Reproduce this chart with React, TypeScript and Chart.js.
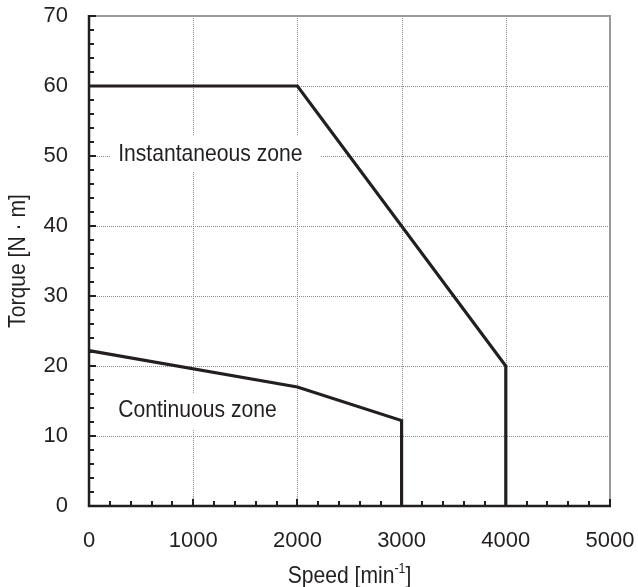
import { useEffect, useRef } from 'react';
import { Chart, registerables } from 'chart.js';

Chart.register(...registerables);

// ---- data ----
const instSpeed = [0, 2000, 4000, 4000];
const instTorque = [60, 60, 20, 0];
const contSpeed = [0, 2000, 3000, 3000];
const contTorque = [22.2, 17, 12.2, 0];

const xMajorTicks = [0, 1000, 2000, 3000, 4000, 5000];
const yMajorTicks = [0, 10, 20, 30, 40, 50, 60, 70];
const xMinorStep = 200;
const yMinorStep = 2;

const zoneNames = ['Instantaneous zone', 'Continuous zone'];
const zoneSpeed = [280, 280];
const zoneTorque = [50.3, 13.6];

const xTitleMain = 'Speed [min';
const xTitleSup = '-1';
const xTitleEnd = ']';
const yTitle = 'Torque [N · m]';

const INK = '#231f20';
const SANS = '"Liberation Sans", Arial, sans-serif';
const COND = 0.88; // horizontal condensing for the label face

const decorPlugin = {
  id: 'decor',
  beforeDatasetsDraw(chart: any) {
    const { ctx, chartArea } = chart;
    const xs = chart.scales.x;
    const ys = chart.scales.y;
    const { left, right, top, bottom } = chartArea;
    ctx.save();
    // dotted grid
    ctx.strokeStyle = '#8c8c8c';
    ctx.lineWidth = 1;
    ctx.setLineDash([1, 1]);
    xMajorTicks.forEach((v) => {
      if (v === 0 || v === 5000) return;
      const px = Math.round(xs.getPixelForValue(v)) + 0.5;
      ctx.beginPath();
      ctx.moveTo(px, top);
      ctx.lineTo(px, bottom);
      ctx.stroke();
    });
    yMajorTicks.forEach((v) => {
      if (v === 0 || v === 70) return;
      const py = Math.round(ys.getPixelForValue(v)) + 0.5;
      ctx.beginPath();
      ctx.moveTo(left, py);
      ctx.lineTo(right, py);
      ctx.stroke();
    });
    ctx.setLineDash([]);
    // top & right frame (gray)
    ctx.strokeStyle = '#9a9a9a';
    ctx.lineWidth = 2;
    ctx.beginPath();
    ctx.moveTo(left, top);
    ctx.lineTo(right, top);
    ctx.lineTo(right, bottom);
    ctx.stroke();

    // zone labels with white background
    ctx.font = `24px ${SANS}`;
    ctx.textBaseline = 'middle';
    ctx.textAlign = 'left';
    zoneNames.forEach((name, i) => {
      const px = xs.getPixelForValue(zoneSpeed[i]);
      const py = ys.getPixelForValue(zoneTorque[i]);
      const w = ctx.measureText(name).width * COND;
      ctx.fillStyle = '#ffffff';
      ctx.fillRect(px - 8, py - 18, w + 26, 36);
      ctx.save();
      ctx.translate(px, py);
      ctx.scale(COND, 1);
      ctx.fillStyle = INK;
      ctx.fillText(name, 0, 0);
      ctx.restore();
    });
    ctx.restore();
  },
  afterDatasetsDraw(chart: any) {
    const { ctx, chartArea } = chart;
    const xs = chart.scales.x;
    const ys = chart.scales.y;
    const { left, right, top, bottom } = chartArea;
    ctx.save();
    ctx.strokeStyle = INK;
    // ticks
    ctx.lineWidth = 2;
    for (let v = 0; v <= 5000; v += xMinorStep) {
      const px = Math.round(xs.getPixelForValue(v));
      const len = v % 1000 === 0 ? 7 : 5;
      ctx.beginPath();
      ctx.moveTo(px, bottom);
      ctx.lineTo(px, bottom - len);
      ctx.stroke();
    }
    for (let v = 0; v <= 70; v += yMinorStep) {
      const py = Math.round(ys.getPixelForValue(v));
      const len = v % 10 === 0 ? 7 : 5;
      ctx.beginPath();
      ctx.moveTo(left, py);
      ctx.lineTo(left + len, py);
      ctx.stroke();
    }
    // black axes
    ctx.lineWidth = 2.5;
    ctx.beginPath();
    ctx.moveTo(left, top - 1);
    ctx.lineTo(left, bottom);
    ctx.lineTo(right + 1, bottom);
    ctx.stroke();
    ctx.restore();
  },
  afterDraw(chart: any) {
    const { ctx, chartArea } = chart;
    ctx.save();
    ctx.fillStyle = INK;
    ctx.textBaseline = 'alphabetic';
    ctx.textAlign = 'left';
    // x title with superscript
    ctx.font = `24px ${SANS}`;
    const w1 = ctx.measureText(xTitleMain).width * COND;
    const w3 = ctx.measureText(xTitleEnd).width * COND;
    ctx.font = `14px ${SANS}`;
    const w2 = ctx.measureText(xTitleSup).width * COND;
    const total = w1 + w2 + w3;
    const cx = (chartArea.left + chartArea.right) / 2;
    const x0 = cx - total / 2;
    const base = 583;
    ctx.save();
    ctx.translate(x0, base);
    ctx.scale(COND, 1);
    ctx.font = `24px ${SANS}`;
    ctx.fillText(xTitleMain, 0, 0);
    ctx.font = `14px ${SANS}`;
    ctx.fillText(xTitleSup, w1 / COND, -10);
    ctx.font = `24px ${SANS}`;
    ctx.fillText(xTitleEnd, (w1 + w2) / COND, 0);
    ctx.restore();

    // y title, rotated
    const cy = (chartArea.top + chartArea.bottom) / 2;
    ctx.save();
    ctx.translate(18, cy);
    ctx.rotate(-Math.PI / 2);
    ctx.scale(COND, 1);
    ctx.font = `24px ${SANS}`;
    ctx.textAlign = 'center';
    ctx.textBaseline = 'middle';
    ctx.fillText(yTitle, 0, 0);
    ctx.restore();
    ctx.restore();
  },
};

export default function App() {
  const ref = useRef<HTMLCanvasElement>(null);
  useEffect(() => {
    const canvas = ref.current;
    if (!canvas) return;
    const chart = new Chart(canvas, {
      type: 'line',
      data: {
        datasets: [
          {
            label: 'Instantaneous',
            data: instSpeed.map((s, i) => ({ x: s, y: instTorque[i] })),
            borderColor: INK,
            borderWidth: 3.2,
            pointRadius: 0,
            tension: 0,
            fill: false,
            clip: false as any,
          },
          {
            label: 'Continuous',
            data: contSpeed.map((s, i) => ({ x: s, y: contTorque[i] })),
            borderColor: INK,
            borderWidth: 3.2,
            pointRadius: 0,
            tension: 0,
            fill: false,
            clip: false as any,
          },
        ],
      },
      options: {
        responsive: false,
        animation: false,
        devicePixelRatio: 1,
        layout: { padding: { left: 0, right: 28, top: 16, bottom: 0 } },
        plugins: {
          legend: { display: false },
          tooltip: { enabled: false },
        },
        scales: {
          x: {
            type: 'linear',
            min: 0,
            max: 5000,
            afterBuildTicks: (scale: any) => {
              scale.ticks = xMajorTicks.map((v) => ({ value: v }));
            },
            afterFit: (scale: any) => {
              scale.height = 81;
              scale.paddingLeft = 0;
              scale.paddingRight = 0;
              scale.paddingTop = 0;
              scale.paddingBottom = 0;
            },
            grid: { display: false, drawTicks: false },
            border: { display: false },
            ticks: {
              padding: 22,
              color: INK,
              font: { family: SANS, size: 22 },
              maxRotation: 0,
              autoSkip: false,
              callback: (v: any) => String(v),
            },
          },
          y: {
            type: 'linear',
            min: 0,
            max: 70,
            afterBuildTicks: (scale: any) => {
              scale.ticks = yMajorTicks.map((v) => ({ value: v }));
            },
            afterFit: (scale: any) => {
              scale.width = 89;
              scale.paddingLeft = 0;
              scale.paddingRight = 0;
              scale.paddingTop = 0;
              scale.paddingBottom = 0;
            },
            grid: { display: false, drawTicks: false },
            border: { display: false },
            ticks: {
              padding: 21,
              color: INK,
              font: { family: SANS, size: 22 },
              autoSkip: false,
              callback: (v: any) => String(v),
            },
          },
        },
      },
      plugins: [decorPlugin],
    });
    return () => chart.destroy();
  }, []);
  return (
    <div style={{ position: 'absolute', left: 0, top: 0, width: 638, height: 587, background: '#fff' }}>
      <canvas ref={ref} width={638} height={587} style={{ display: 'block' }} />
    </div>
  );
}
